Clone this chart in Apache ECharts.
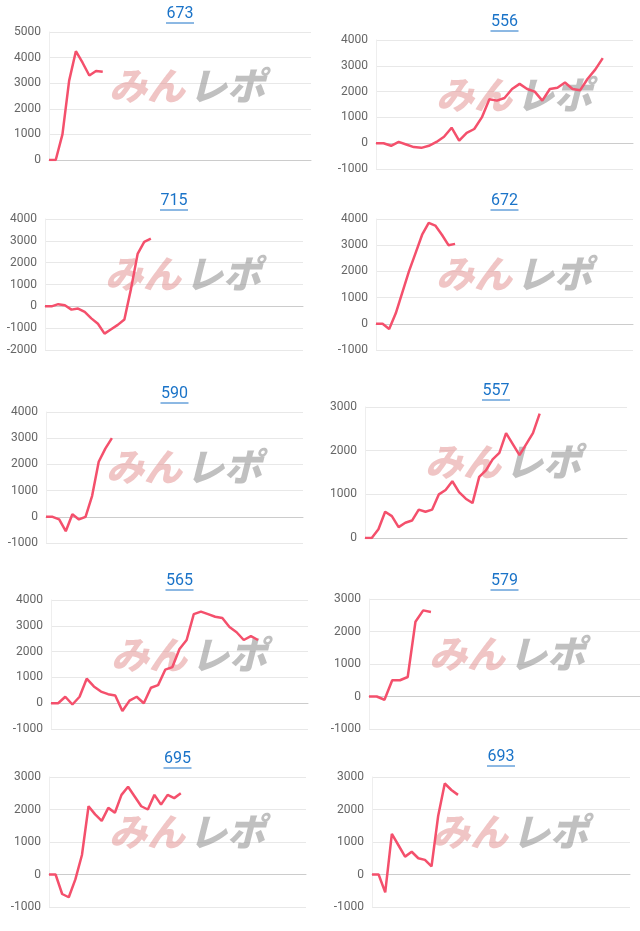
<!DOCTYPE html>
<html>
<head>
<meta charset="utf-8">
<script src="https://cdn.jsdelivr.net/npm/echarts@6/dist/echarts.min.js"></script>
<style>
  html, body { margin: 0; padding: 0; background: #fff; }
  #main { width: 640px; height: 931px; }
</style>
</head>
<body>
<div id="main"></div>
<script>
var names = ["673", "556", "715", "672", "590", "557", "565", "579", "695", "693"];

var d673 = [0, 0, 1000, 3100, 4250, 3800, 3300, 3480, 3450];
var d556 = [0, 0, -100, 50, -50, -150, -180, -100, 50, 250, 600, 100, 400, 550, 1000, 1700, 1650, 1750, 2100, 2300, 2100, 2000, 1650, 2100, 2150, 2350, 2100, 2050, 2500, 2850, 3300];
var d715 = [0, 0, 100, 50, -150, -100, -250, -550, -800, -1250, -1050, -850, -600, 800, 2400, 2950, 3100];
var d672 = [0, 0, -200, 400, 1200, 2000, 2700, 3400, 3850, 3750, 3400, 3000, 3050];
var d590 = [0, 0, -100, -550, 100, -100, 0, 800, 2100, 2600, 3000];
var d557 = [0, 0, 200, 600, 500, 250, 350, 400, 650, 600, 650, 1000, 1100, 1300, 1050, 900, 800, 1400, 1550, 1800, 1950, 2400, 2150, 1900, 2150, 2400, 2850];
var d565 = [0, 0, 250, -50, 250, 950, 650, 450, 350, 300, -300, 100, 250, 0, 600, 700, 1300, 1400, 2100, 2450, 3450, 3550, 3450, 3350, 3300, 2950, 2750, 2450, 2600, 2450];
var d579 = [0, 0, -100, 500, 500, 600, 2300, 2650, 2600];
var d695 = [0, 0, -600, -700, -150, 600, 2100, 1850, 1650, 2050, 1900, 2450, 2700, 2400, 2100, 2000, 2450, 2150, 2450, 2350, 2500];
var d693 = [0, 0, -550, 1250, 900, 550, 700, 500, 450, 250, 1800, 2800, 2600, 2450];
var seriesData = [d673, d556, d715, d672, d590, d557, d565, d579, d695, d693];

var mins = [0, -1000, -2000, -1000, -1000, 0, -1000, -1000, -1000, -1000];
var maxs = [5000, 4000, 4000, 4000, 4000, 3000, 4000, 3000, 3000, 3000];
var counts = [40, 35, 40, 40, 40, 40, 37, 36, 40, 40];

// layout: [titleY, gridLeft, gridRight, gridTop, gridBottom]
var boxes = [
  [14, 49, 311, 32, 160], [22, 376, 633, 40, 169],
  [201, 45, 303, 219, 350], [201, 376, 633, 219, 350],
  [394, 46, 303, 412, 543], [391, 365, 627, 407, 538],
  [581, 51, 308, 600, 729], [581, 369, 640, 599, 729],
  [759, 49, 306, 777, 907], [757, 372, 630, 777, 907]
];

var grids = [], xAxes = [], yAxes = [], series = [], graphics = [];
boxes.forEach(function (b, i) {
  var w = b[2] - b[1], h = b[4] - b[3];
  grids.push({ left: b[1], top: b[3], width: w, height: h });
  var cats = [];
  for (var k = 0; k < counts[i]; k++) cats.push(k);
  xAxes.push({
    type: "category", gridIndex: i, data: cats, boundaryGap: false,
    axisLabel: { show: false }, axisTick: { show: false },
    axisLine: { lineStyle: { color: "#ccc" } }
  });
  yAxes.push({
    type: "value", gridIndex: i, min: mins[i], max: maxs[i], interval: 1000,
    axisLabel: { color: "#666", fontSize: 12, fontFamily: "Roboto", formatter: function (v) { return String(v); } },
    axisLine: { show: true, lineStyle: { color: "#eee" } },
    splitLine: { lineStyle: { color: "#e8e8e8" } }
  });
  series.push({
    type: "line", xAxisIndex: i, yAxisIndex: i, data: seriesData[i],
    symbol: "none", z: 3,
    lineStyle: { color: "#f4506c", width: 2.5 }
  });
  var cx = (b[1] + b[2]) / 2;
  graphics.push({
    type: "text", x: cx, y: b[0],
    style: { text: names[i], fill: "#1a73c8", font: "16px Roboto", align: "center", verticalAlign: "middle" }
  });
  graphics.push({
    type: "line", shape: { x1: cx - 14, y1: b[0] + 9, x2: cx + 14, y2: b[0] + 9 },
    style: { stroke: "#1a73c8", lineWidth: 1 }
  });
  // watermark
  var wx = b[1] + 60, wy = b[3] + h * 0.42;
  graphics.push({
    type: "text", x: wx, y: wy, z: 1,
    style: { text: "みん", fill: "rgba(225,140,140,0.5)", font: "italic 900 38px 'Noto Sans CJK JP'", verticalAlign: "middle" }
  });
  graphics.push({
    type: "text", x: wx + 80, y: wy, z: 1,
    style: { text: "レポ", fill: "rgba(140,140,140,0.55)", font: "italic 900 38px 'Noto Sans CJK JP'", verticalAlign: "middle" }
  });
});

var myChart = echarts.init(document.getElementById("main"));
myChart.setOption({
  animation: false,
  grid: grids,
  xAxis: xAxes,
  yAxis: yAxes,
  series: series,
  graphic: graphics
});
</script>
</body>
</html>
